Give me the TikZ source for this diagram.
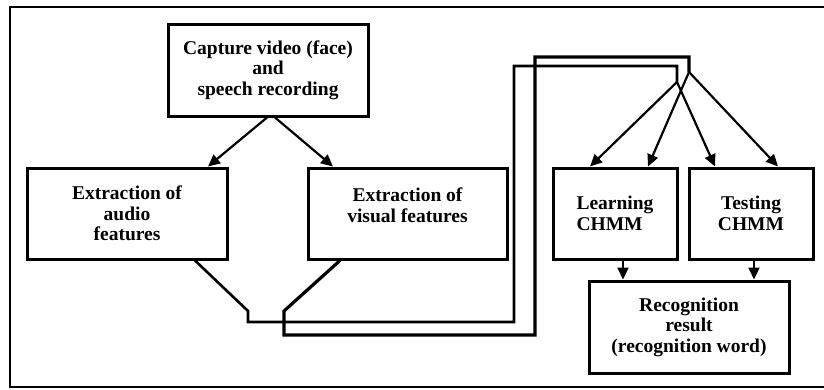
\documentclass[tikz,border=0pt]{standalone}
\usepackage{fontspec}
\setmainfont{Liberation Serif}
\usetikzlibrary{arrows.meta,calc}
\begin{document}
\begin{tikzpicture}[x=1pt,y=-1pt,
  box/.style={draw,line width=3pt,rectangle,inner sep=0pt,
    font=\bfseries\fontsize{19.5}{20.5}\selectfont,align=center},
  arr/.style={line width=2.2pt,-{Triangle[length=12pt,width=11pt]}},
  route/.style={line width=2.6pt,line join=miter},
  routeb/.style={line width=3.2pt,line join=miter}]
\useasboundingbox (0,0) rectangle (824,389);
% frame
\draw[line width=2.8pt] (826,7) -- (10,7) -- (10,387) -- (826,387);
% nodes
\node[box,minimum width=200pt,minimum height=92pt] (cap) at (268,70)
  {Capture video (face)\\and\\speech recording};
\node[box,minimum width=200pt,minimum height=91pt] (aud) at (127,213.5)
  {Extraction of\\audio\\features};
\node[box,minimum width=199pt,minimum height=91pt] (vis) at (407.5,213.5)
  {};
\node[font=\bfseries\fontsize{19.5}{20.5}\selectfont,align=center] (vist) at (407.5,205)
  {Extraction of\\visual features};
\node[box,minimum width=124pt,minimum height=91pt,align=left] (lrn) at (615,213.5)
  {Learning\\CHMM};
\node[box,minimum width=124pt,minimum height=91pt] (tst) at (751,213.5)
  {Testing\\CHMM};
\node[box,minimum width=200pt,minimum height=92pt] (rec) at (689,327)
  {Recognition\\result\\(recognition word)};
% arrows from capture
\draw[arr] ([xshift=-1pt]cap.south) -- ([xshift=81pt]aud.north);
\draw[arr] ([xshift=7pt]cap.south) -- ([xshift=-74.5pt]vis.north);
% audio route
\coordinate (a1) at (248,311);
\coordinate (a2) at (248,322);
\coordinate (a3) at (514,322);
\coordinate (a4) at (514,66);
\coordinate (a5) at (677,66);
\coordinate (af) at (677,82);
\draw[route] ([xshift=68pt]aud.south) -- (a1) -- (a2) -- (a3) -- (a4) -- (a5) -- (af);
% visual route
\coordinate (v1) at (284,311);
\coordinate (v2) at (284,335);
\coordinate (v3) at (535,335);
\coordinate (v4) at (535,57);
\coordinate (v5) at (689,57);
\coordinate (vf) at (689,72);
\draw[routeb] ([xshift=-67.5pt]vis.south) -- (v1) -- (v2) -- (v3) -- (v4) -- (v5) -- (vf);
% fan arrows
\draw[arr] (af) -- ([xshift=-25pt]lrn.north);
\draw[arr] (af) -- ([xshift=-36pt]tst.north);
\draw[arr] (vf) -- ([xshift=33pt]lrn.north);
\draw[arr] (vf) -- ([xshift=27pt]tst.north);
% to recognition
\draw[arr] ([xshift=8pt]lrn.south) -- ([xshift=8pt]lrn.south |- rec.north);
\draw[arr] ([xshift=3pt]tst.south) -- ([xshift=3pt]tst.south |- rec.north);
\end{tikzpicture}
\end{document}
